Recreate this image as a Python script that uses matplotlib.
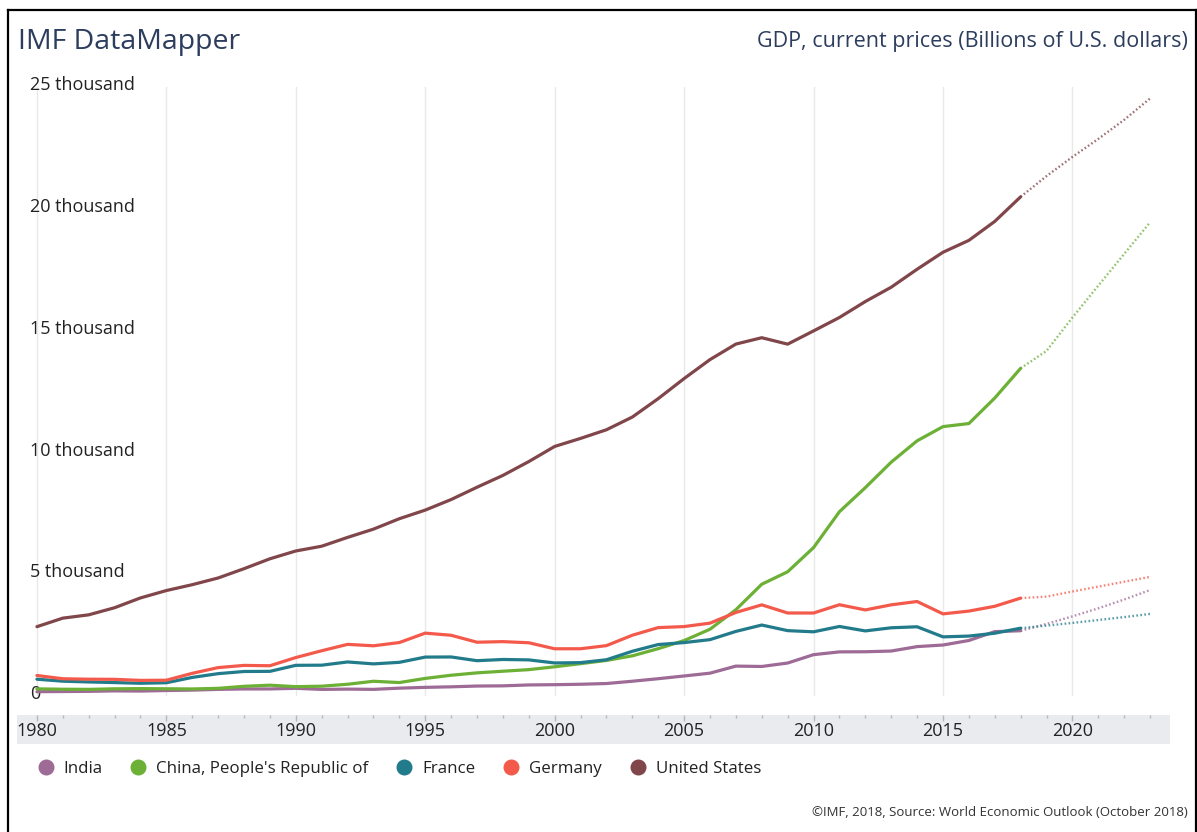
"""GDP in current prices for five economies, IMF DataMapper style."""

import matplotlib
matplotlib.use("Agg")
import matplotlib.pyplot as plt
from matplotlib.lines import Line2D
from matplotlib.transforms import ScaledTranslation

plt.rcParams["font.family"] = ["Open Sans", "DejaVu Sans"]

W, H = 1197, 832

years = list(range(1980, 2019))
proj_years = list(range(2018, 2024))

# billions of U.S. dollars, 1980-2018
india = [189, 196, 203, 222, 215, 237, 253, 284, 302, 302, 327, 283, 295, 285,
         334, 367, 389, 421, 429, 466, 477, 494, 524, 618, 722, 834, 949, 1239,
         1224, 1365, 1708, 1823, 1828, 1857, 2039, 2104, 2290, 2653, 2690]
china = [305, 290, 285, 307, 315, 309, 301, 327, 410, 456, 395, 415, 494, 617,
         564, 734, 864, 962, 1029, 1094, 1211, 1339, 1471, 1660, 1955, 2286,
         2752, 3552, 4598, 5110, 6101, 7573, 8561, 9607, 10482, 11065, 11191,
         12238, 13457]
france = [702, 620, 589, 563, 535, 556, 775, 929, 1018, 1024, 1271, 1277, 1409,
          1330, 1394, 1609, 1614, 1461, 1511, 1494, 1368, 1382, 1500, 1848,
          2124, 2204, 2325, 2663, 2924, 2694, 2646, 2865, 2683, 2811, 2853,
          2439, 2471, 2588, 2795]
germany = [854, 720, 701, 696, 653, 660, 943, 1178, 1268, 1254, 1590, 1869,
           2131, 2072, 2206, 2592, 2504, 2219, 2243, 2197, 1950, 1951, 2079,
           2506, 2819, 2861, 3002, 3440, 3752, 3418, 3417, 3757, 3544, 3753,
           3890, 3382, 3496, 3693, 4029]
usa = [2857, 3207, 3343, 3634, 4037, 4339, 4580, 4855, 5236, 5642, 5963, 6158,
       6520, 6859, 7287, 7640, 8073, 8578, 9063, 9631, 10252, 10582, 10936,
       11458, 12214, 13037, 13815, 14452, 14713, 14449, 14992, 15543, 16197,
       16785, 17522, 18219, 18707, 19485, 20494]

# projections 2019-2023 (drawn from the 2018 value onward)
india_proj = [2970, 3280, 3610, 3970, 4360]
china_proj = [14172, 15540, 16850, 18150, 19450]
france_proj = [2900, 3010, 3130, 3250, 3380]
germany_proj = [4090, 4300, 4500, 4700, 4900]
usa_proj = [21345, 22131, 22871, 23653, 24530]

names = ["India", "China, People's Republic of", "France", "Germany",
         "United States"]
colors = ["#9d6b96", "#6cb036", "#227b8b", "#f35a4b", "#80464a"]
hist = [india, china, france, germany, usa]
proj = [india_proj, china_proj, france_proj, germany_proj, usa_proj]

y_ticks = [0, 5000, 10000, 15000, 20000, 25000]
y_labels = ["0", "5 thousand", "10 thousand", "15 thousand", "20 thousand",
            "25 thousand"]
x_ticks = list(range(1980, 2021, 5))

fig = plt.figure(figsize=(W / 100, H / 100), dpi=100)

x0, x1 = 1979.23, 2023.77
ax = fig.add_axes([17 / W, (H - 696.3) / H, 1153 / W, (696.3 - 87) / H])
for vals, pvals, c in zip(hist, proj, colors):
    ax.plot(years, vals, color=c, lw=2.3, solid_capstyle="round",
            clip_on=False, zorder=3)
    ax.plot(proj_years, [vals[-1]] + pvals, color=c, lw=1.7, alpha=0.75,
            ls=(0, (0.7, 1.0)), clip_on=False, zorder=2)

ax.set_xlim(x0, x1)
ax.set_ylim(0, 25000)
ax.set_xticks(x_ticks)
ax.grid(axis="x", color="#e9e9e9", lw=1)
ax.set_axisbelow(True)
ax.tick_params(axis="x", length=0, labelbottom=False)
ax.set_yticks(y_ticks)
ax.set_yticklabels(y_labels)
ax.tick_params(axis="y", length=0, pad=-9.4, labelsize=13, labelcolor="#222222")
shift = ScaledTranslation(0, 0.04, fig.dpi_scale_trans)
for lbl in ax.get_yticklabels():
    lbl.set_horizontalalignment("left")
    lbl.set_transform(lbl.get_transform() + shift)
for s in ax.spines.values():
    s.set_visible(False)

# grey year band under the plot
band = fig.add_axes([17 / W, (H - 744) / H, 1153 / W, 29 / H])
band.set_facecolor("#e9ebee")
band.set_xlim(x0, x1)
band.set_ylim(0, 1)
band.set_yticks([])
band.set_xticks(x_ticks)
band.set_xticks(range(1980, 2024), minor=True)
band.tick_params(axis="x", which="both", top=True, bottom=False,
                 direction="in", color="#b5b8bd", width=1,
                 labelbottom=True, labeltop=False)
band.tick_params(axis="x", which="major", length=4.5, pad=-16,
                 labelsize=13, labelcolor="#222222")
band.tick_params(axis="x", which="minor", length=2.5)
for s in band.spines.values():
    s.set_visible(False)

handles = [Line2D([], [], marker="o", ls="", markersize=10.5, color=c)
           for c in colors]
fig.legend(handles, names, loc="center left", ncol=5, frameon=False,
           bbox_to_anchor=(28.7 / W, 1 - 769 / H), borderpad=0,
           handlelength=1.0, handletextpad=0.55, columnspacing=1.62,
           fontsize=12.2, labelcolor="#222222")

fig.text(18 / W, 1 - 42 / H, "IMF DataMapper", fontsize=20.5, color="#2c3d5e",
         va="center", ha="left")
fig.text(1188 / W, 1 - 42 / H, "GDP, current prices (Billions of U.S. dollars)",
         fontsize=15.5, color="#2c3d5e", va="center", ha="right")
fig.text(1188 / W, 1 - 812 / H,
         "\u00a9IMF, 2018, Source: World Economic Outlook (October 2018)",
         fontsize=9.5, color="#333333", va="center", ha="right")

# outer frame
top_y = 1 - 10 / H
for xs, ys in [([8 / W, 8 / W], [0, top_y]),
               ([8 / W, 1196 / W], [top_y, top_y]),
               ([1196 / W, 1196 / W], [0, top_y])]:
    fig.add_artist(Line2D(xs, ys, color="black", lw=1.6,
                          transform=fig.transFigure))

fig.savefig("out.png", dpi=100)
